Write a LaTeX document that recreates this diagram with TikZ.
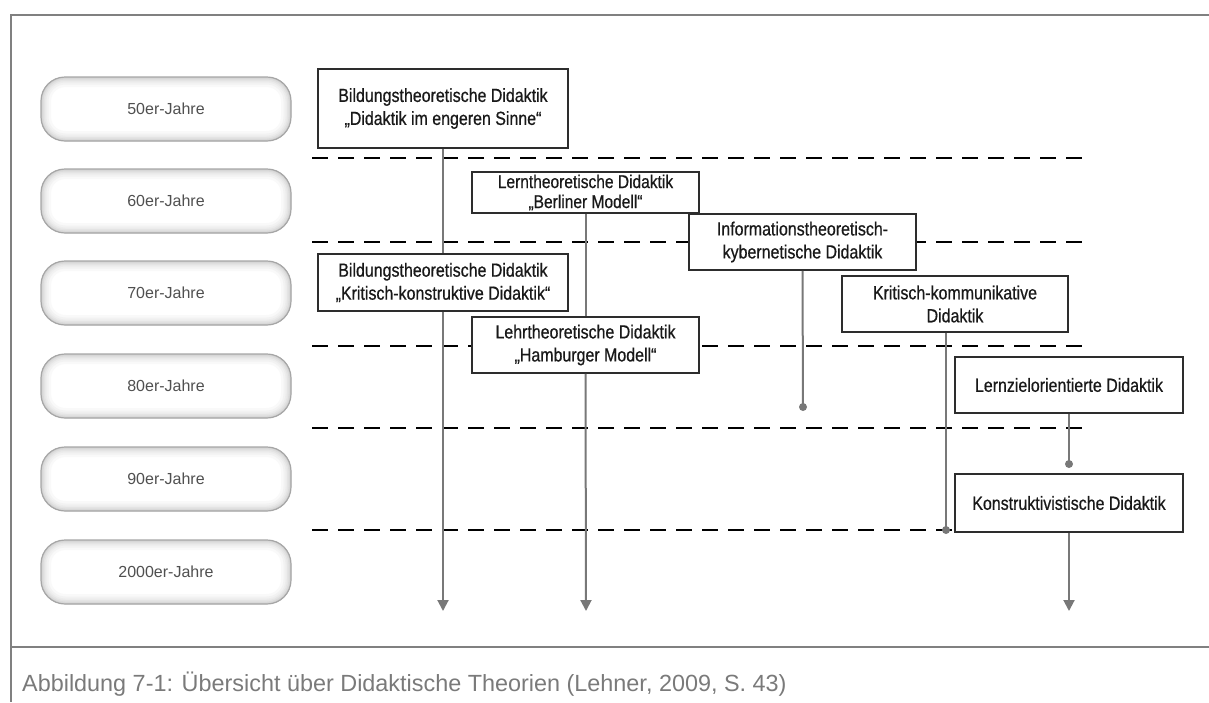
\documentclass[tikz,border=0pt]{standalone}
\usepackage{fontspec}
\setmainfont{Liberation Sans}
\newfontfamily\boxfont[FakeStretch=0.84,FakeBold=0.6]{Liberation Sans}
\usetikzlibrary{arrows.meta}
\definecolor{framegray}{RGB}{128,128,128}
\definecolor{conngray}{RGB}{120,120,120}
\definecolor{boxline}{RGB}{45,45,45}
\definecolor{pilltext}{RGB}{80,80,80}
\definecolor{captiongray}{RGB}{122,122,122}
\tikzset{
  pill/.style={draw=gray!70, line width=1.2pt, fill=white, rounded corners=24pt,
    minimum width=250pt, minimum height=64pt, inner sep=0pt, text=pilltext,
    font=\fontsize{16}{19}\selectfont,
    path picture={
      \foreach \w/\c in {20/5,15/10,11/15,8/21,5/28,2.5/36}{
        \draw[rounded corners=24pt, line width=\w pt, gray!\c]
          (path picture bounding box.south west) rectangle (path picture bounding box.north east);
      }
    }},
  theory/.style={draw=boxline, line width=1.8pt, fill=white, inner sep=0pt,
    align=center, text=black!90, font=\boxfont\fontsize{19}{23}\selectfont},
  conn/.style={draw=conngray, line width=2pt},
  arr/.style={conn, -{Triangle[width=11pt,length=11pt]}},
  dashline/.style={draw=black, line width=2.3pt, dash pattern=on 16pt off 10pt},
  framel/.style={draw=framegray, line width=2.5pt},
  dotc/.style={fill=conngray}
}
\begin{document}
\begin{tikzpicture}[x=1pt,y=-1pt]
\useasboundingbox (0,0) rectangle (1209,702);
% frame
\draw[framel] (1209,15) -- (11,15) -- (11,702);
\draw[framel] (11,647) -- (1209,647);
% caption
\node[anchor=base west, text=captiongray, font=\fontsize{23.4}{28}\selectfont, inner sep=0pt] (cap) at (22,691)
  {Abbildung 7-1: Übersicht über Didaktische Theorien (Lehner, 2009, S. 43)};
% decade pills
\node[pill] (p50) at (166,109) {50er-Jahre};
\node[pill] (p60) at (166,201) {60er-Jahre};
\node[pill] (p70) at (166,293) {70er-Jahre};
\node[pill] (p80) at (166,386) {80er-Jahre};
\node[pill] (p90) at (166,479) {90er-Jahre};
\node[pill] (p00) at (166,572) {2000er-Jahre};
% dashed separators
\draw[dashline] (312,158) -- (1085,158);
\draw[dashline] (312,242) -- (1085,242);
\draw[dashline] (312,346) -- (1090,346);
\draw[dashline] (312,428) -- (1082,428);
\draw[dashline] (312,530) -- (1082,530);
% coordinates
\coordinate (a1) at (443,611);
\coordinate (a2) at (586,611);
\coordinate (a3) at (1069,611);
\coordinate (d1) at (803,407);
\coordinate (d2) at (946,530);
\coordinate (d3) at (1069,464);
% theory boxes
\node[theory, minimum width=250pt, minimum height=79pt] (b1) at (443,108.5)
  {Bildungstheoretische Didaktik\\„Didaktik im engeren Sinne“};
\node[theory, minimum width=227pt, minimum height=41pt, font=\boxfont\fontsize{18.5}{20}\selectfont] (b2) at (585.5,192.5)
  {Lerntheoretische Didaktik\\„Berliner Modell“};
\node[theory, minimum width=250pt, minimum height=57pt] (b4) at (443,282.5)
  {Bildungstheoretische Didaktik\\„Kritisch-konstruktive Didaktik“};
\node[theory, minimum width=227pt, minimum height=56pt] (b5) at (585.5,345)
  {Lehrtheoretische Didaktik\\„Hamburger Modell“};
\node[theory, minimum width=226pt, minimum height=56pt] (b6) at (955,304)
  {Kritisch-kommunikative\\Didaktik};
\node[theory, minimum width=228pt, minimum height=56pt] (b7) at (1069,385)
  {Lernzielorientierte Didaktik};
\node[theory, minimum width=228pt, minimum height=58pt] (b8) at (1069,503)
  {Konstruktivistische Didaktik};
% connectors
\draw[conn] (b1.south) -- (b4.north);
\draw[arr] (b4.south) -- (a1);
\draw[conn] (b2.south) -- (b5.north);
\draw[arr] (b5.south) -- (a2);
\draw[conn] ([xshift=-9pt]b6.south) -- (d2);
\draw[conn] (b7.south) -- (d3);
\draw[arr] (b8.south) -- (a3);
% box 3 drawn above the line crossing
\node[theory, minimum width=227pt, minimum height=56pt] (b3) at (802.5,242)
  {Informationstheoretisch-\\kybernetische Didaktik};
\draw[conn] (b3.south) -- (d1);
% dots
\fill[dotc] (d1) circle (4pt);
\fill[dotc] (d2) circle (4pt);
\fill[dotc] (d3) circle (4pt);
\end{tikzpicture}
\end{document}
